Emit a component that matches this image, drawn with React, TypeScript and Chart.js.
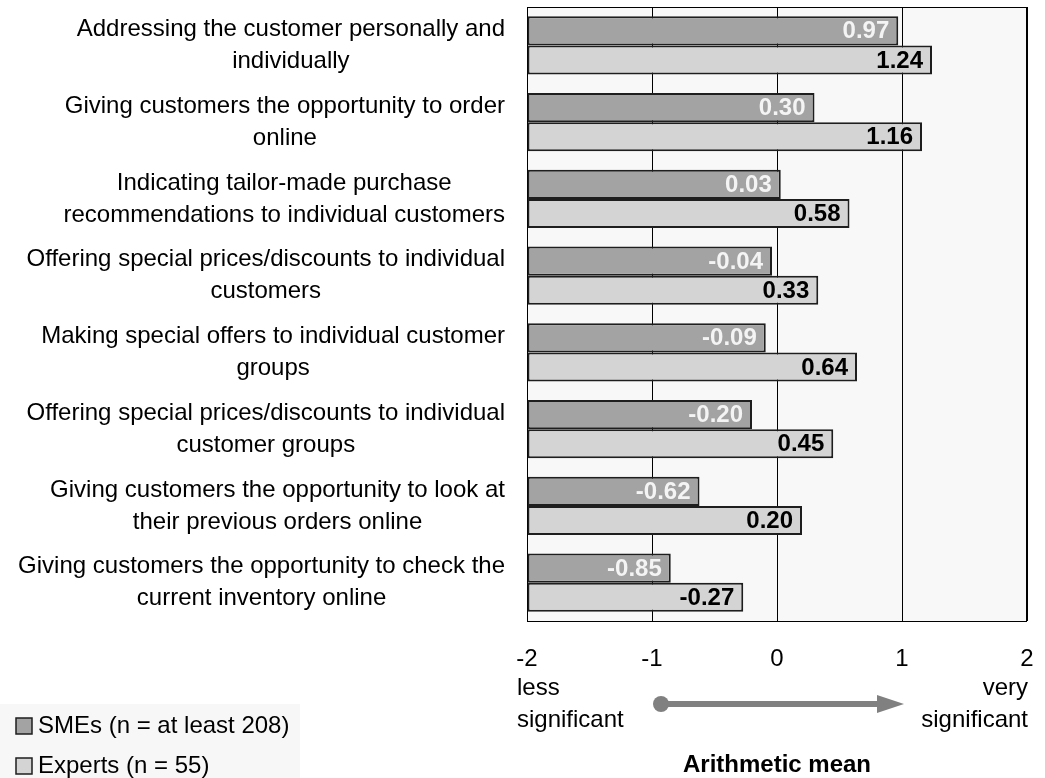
import React, { useEffect, useRef } from "react";
import { Chart, registerables } from "chart.js";

Chart.register(...registerables);

const categories: string[][] = [
  ["Addressing the customer personally and", "individually"],
  ["Giving customers the opportunity to order", "online"],
  ["Indicating tailor-made purchase", "recommendations to individual customers"],
  ["Offering special prices/discounts to individual", "customers"],
  ["Making special offers to individual customer", "groups"],
  ["Offering special prices/discounts to individual", "customer groups"],
  ["Giving customers the opportunity to look at", "their previous orders online"],
  ["Giving customers the opportunity to check the", "current inventory online"],
];

const smeValues = [0.97, 0.3, 0.03, -0.04, -0.09, -0.2, -0.62, -0.85];
const expertValues = [1.24, 1.16, 0.58, 0.33, 0.64, 0.45, 0.2, -0.27];
const seriesNames = ["SMEs (n = at least 208)", "Experts (n = 55)"];
const xTicks = [-2, -1, 0, 1, 2];
const scaleEndLabels = { left: ["less", "significant"], right: ["very", "significant"] };
const axisTitle = "Arithmetic mean";

const FONT = "'Liberation Sans', Arial, sans-serif";
const SME_COLOR = "#a3a3a3";
const EXP_COLOR = "#d4d4d4";
const BORDER = "#1e1e1e";

const decorPlugin = {
  id: "decor",
  beforeDraw(chart: any) {
    const { ctx, chartArea } = chart;
    ctx.save();
    ctx.fillStyle = "#ffffff";
    ctx.fillRect(0, 0, chart.width, chart.height);
    ctx.fillStyle = "#f8f8f8";
    ctx.fillRect(chartArea.left, chartArea.top, chartArea.right - chartArea.left, chartArea.bottom - chartArea.top);
    ctx.restore();
  },
  beforeDatasetsDraw(chart: any) {
    const { ctx, chartArea } = chart;
    ctx.save();
    ctx.strokeStyle = "#000";
    ctx.lineWidth = 1;
    ctx.strokeRect(chartArea.left + 0.5, chartArea.top + 0.5, chartArea.right - chartArea.left - 1, chartArea.bottom - chartArea.top);
    ctx.restore();
  },
  afterDatasetsDraw(chart: any) {
    const { ctx, chartArea, scales } = chart;
    ctx.save();
    // value labels
    ctx.font = `bold 24px ${FONT}`;
    ctx.textAlign = "right";
    ctx.textBaseline = "middle";
    chart.data.datasets.forEach((ds: any, di: number) => {
      const meta = chart.getDatasetMeta(di);
      meta.data.forEach((el: any, i: number) => {
        const v = ds.data[i] as number;
        ctx.fillStyle = di === 0 ? "#f4f4f4" : "#000";
        ctx.fillText(v.toFixed(2), el.x - 9, el.y + 1);
      });
    });
    // category labels (block right-aligned, lines centered)
    ctx.font = `24px ${FONT}`;
    ctx.fillStyle = "#000";
    ctx.textAlign = "center";
    const rightEdge = chartArea.left - 22;
    const lineH = 32;
    categories.forEach((lines, i) => {
      const cy = scales.y.getPixelForValue(i);
      const maxW = Math.max(...lines.map((l) => ctx.measureText(l).width));
      const cx = rightEdge - maxW / 2;
      const startY = cy - ((lines.length - 1) * lineH) / 2;
      lines.forEach((l, j) => ctx.fillText(l, cx, startY + j * lineH));
    });
    // scale end labels
    const x0 = scales.x.getPixelForValue(-2);
    const x2 = scales.x.getPixelForValue(2);
    ctx.textAlign = "left";
    ctx.fillText(scaleEndLabels.left[0], x0 - 10, 688);
    ctx.fillText(scaleEndLabels.left[1], x0 - 10, 720);
    ctx.textAlign = "right";
    ctx.fillText(scaleEndLabels.right[0], x2 + 1, 688);
    ctx.fillText(scaleEndLabels.right[1], x2 + 1, 720);
    // arrow
    const ax1 = scales.x.getPixelForValue(-1) + 9;
    const ax2 = scales.x.getPixelForValue(1) + 2;
    const ay = 704;
    ctx.fillStyle = "#808080";
    ctx.strokeStyle = "#808080";
    ctx.lineWidth = 6;
    ctx.beginPath();
    ctx.moveTo(ax1, ay);
    ctx.lineTo(ax2 - 24, ay);
    ctx.stroke();
    ctx.beginPath();
    ctx.arc(ax1, ay, 8, 0, Math.PI * 2);
    ctx.fill();
    ctx.beginPath();
    ctx.moveTo(ax2 - 27, ay - 9);
    ctx.lineTo(ax2, ay);
    ctx.lineTo(ax2 - 27, ay + 9);
    ctx.closePath();
    ctx.fill();
    // axis title
    ctx.fillStyle = "#000";
    ctx.font = `bold 24px ${FONT}`;
    ctx.textAlign = "center";
    ctx.fillText(axisTitle, (chartArea.left + chartArea.right) / 2, 765);
    // legend
    ctx.fillStyle = "#f7f7f7";
    ctx.fillRect(0, 704, 300, 74);
    const colors = [SME_COLOR, EXP_COLOR];
    ctx.font = `24px ${FONT}`;
    ctx.textAlign = "left";
    seriesNames.forEach((name, i) => {
      const y = 726 + i * 40;
      ctx.fillStyle = colors[i];
      ctx.fillRect(16, y - 8, 16, 16);
      ctx.strokeStyle = BORDER;
      ctx.lineWidth = 1.5;
      ctx.strokeRect(16, y - 8, 16, 16);
      ctx.fillStyle = "#000";
      ctx.fillText(name, 38, y);
    });
    ctx.restore();
  },
};

export default function App() {
  const ref = useRef<HTMLCanvasElement | null>(null);
  useEffect(() => {
    document.body.style.margin = "0";
    document.body.style.overflow = "hidden";
    if (!ref.current) return;
    const chart = new Chart(ref.current, {
      type: "bar",
      data: {
        labels: categories.map((c) => c.join(" ")),
        datasets: [
          {
            label: seriesNames[0],
            data: smeValues,
            backgroundColor: SME_COLOR,
            borderColor: BORDER,
            borderWidth: 2,
            borderSkipped: false,
            base: -2,
            categoryPercentage: 0.756,
            barPercentage: 1,
          } as any,
          {
            label: seriesNames[1],
            data: expertValues,
            backgroundColor: EXP_COLOR,
            borderColor: BORDER,
            borderWidth: 2,
            borderSkipped: false,
            base: -2,
            categoryPercentage: 0.756,
            barPercentage: 1,
          } as any,
        ],
      },
      options: {
        indexAxis: "y",
        animation: false,
        responsive: false,
        maintainAspectRatio: false,
        layout: { padding: { left: 527, right: 18, top: 7, bottom: 0 } },
        plugins: { legend: { display: false }, tooltip: { enabled: false } },
        scales: {
          x: {
            type: "linear",
            min: -2,
            max: 2,
            afterBuildTicks: (scale: any) => {
              scale.ticks = xTicks.map((v) => ({ value: v }));
            },
            afterFit: (scale: any) => {
              scale.height = 157;
              scale.paddingLeft = 0;
              scale.paddingRight = 0;
            },
            grid: { color: "#000", lineWidth: 1, drawTicks: false, tickLength: 0 },
            border: { display: false },
            ticks: {
              color: "#000",
              font: { family: FONT, size: 24 },
              padding: 24,
              maxRotation: 0,
              callback: (v: any) => String(v),
            },
          },
          y: {
            display: false,
          },
        },
      } as any,
      plugins: [decorPlugin],
    });
    return () => chart.destroy();
  }, []);
  return <canvas ref={ref} width={1045} height={778} style={{ display: "block" }} />;
}
